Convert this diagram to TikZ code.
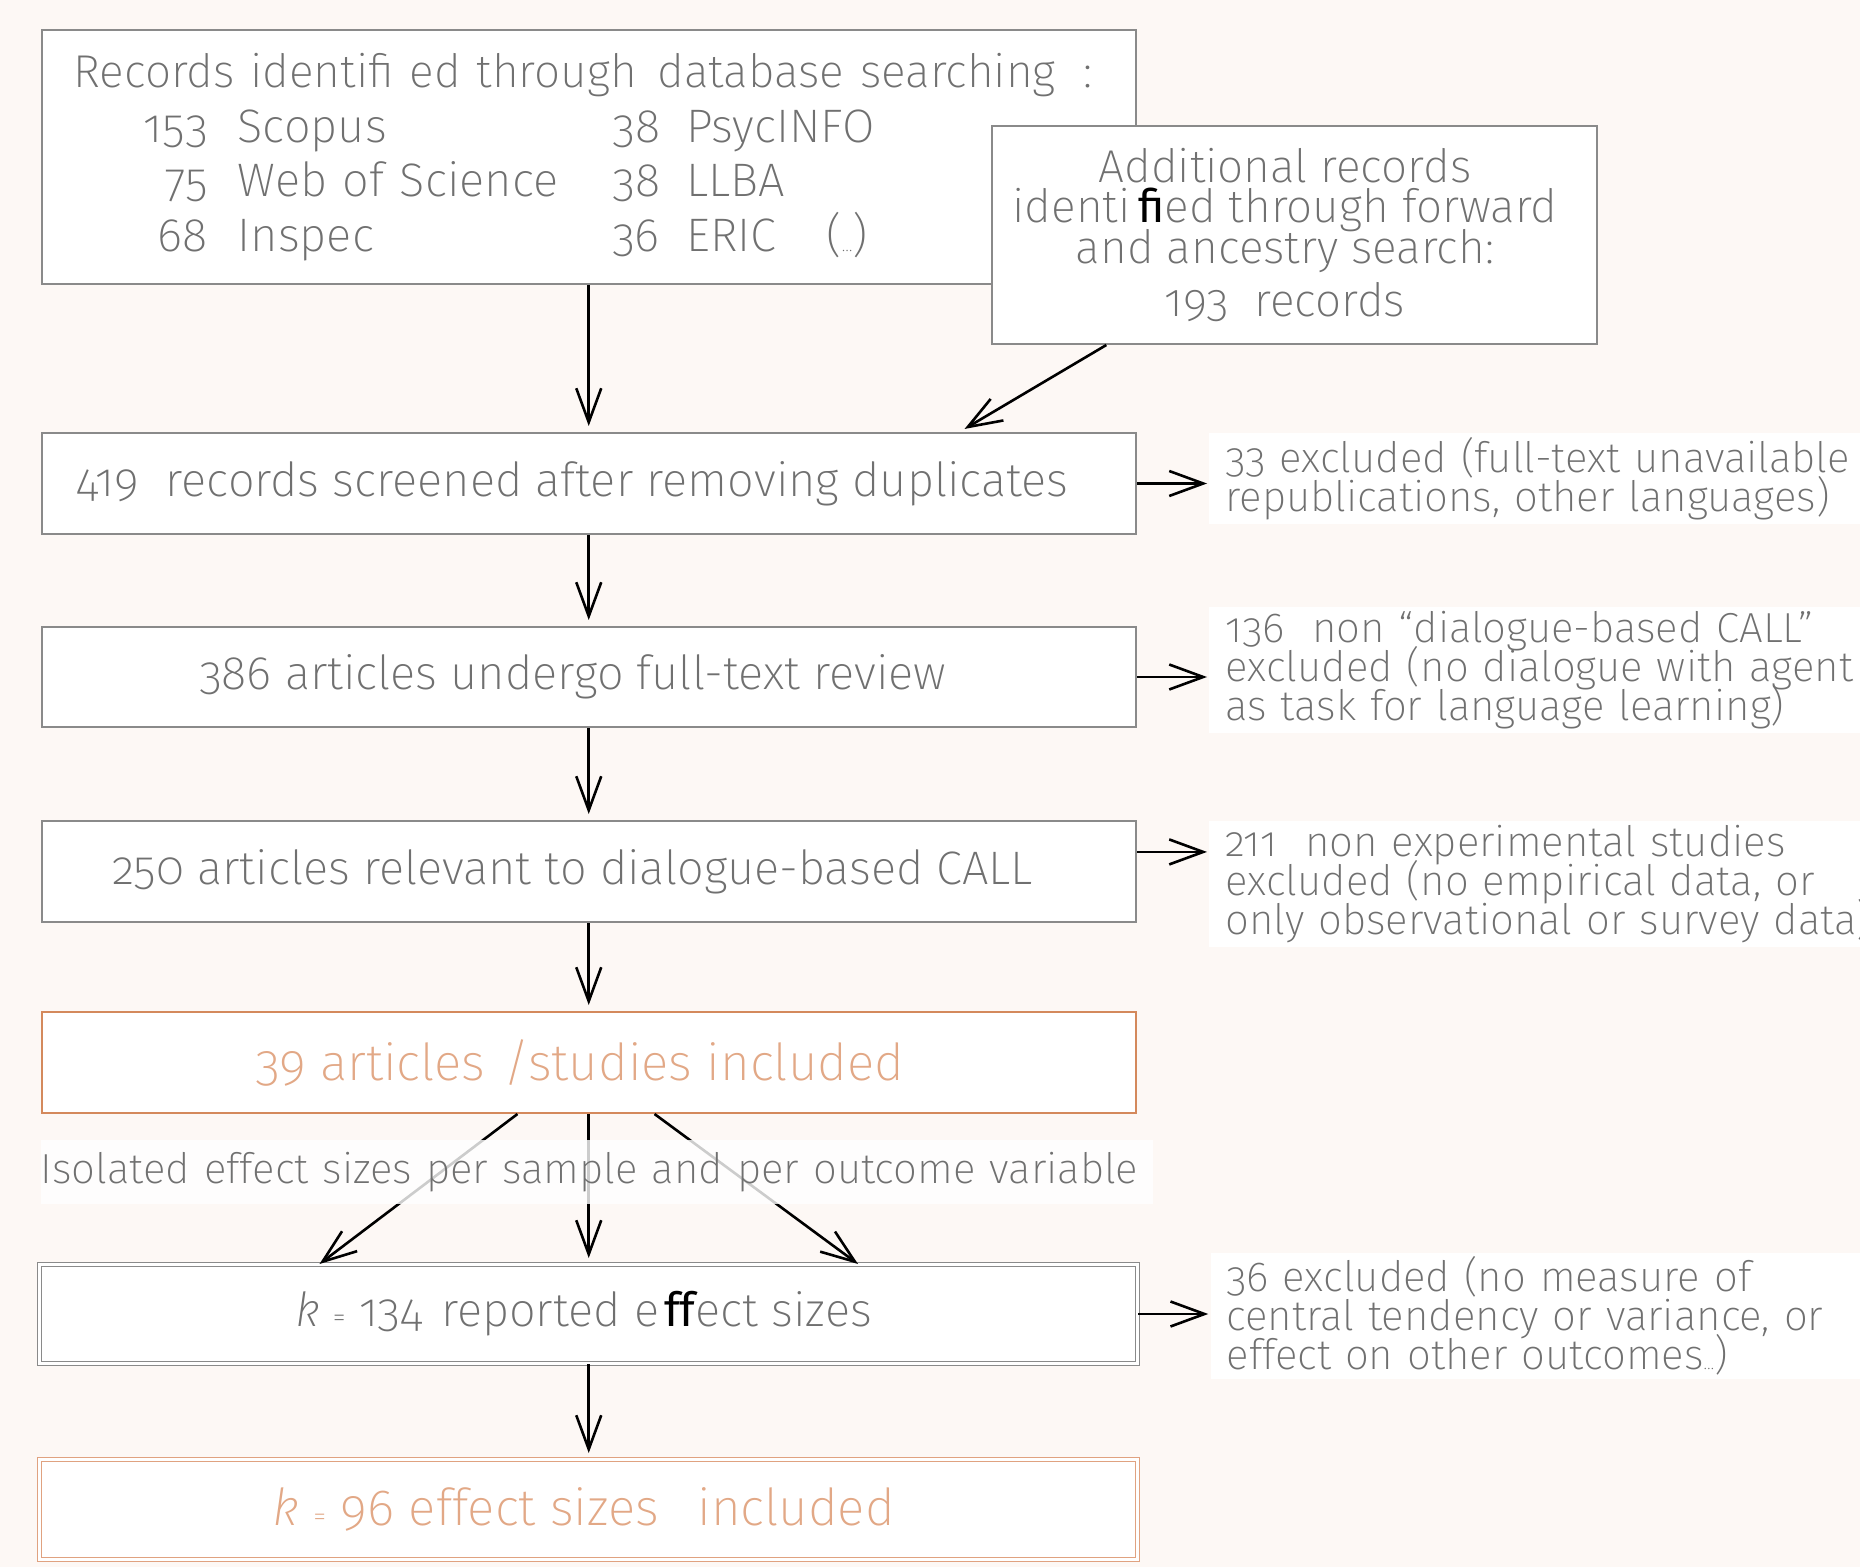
\documentclass[tikz,border=0pt]{standalone}
\usepackage{fontspec}
\IfFontExistsTF{Fira Sans ExtraLight}{\setmainfont{Fira Sans ExtraLight}[Numbers=OldStyle]}{%
  \IfFontExistsTF{Fira Sans Light}{\setmainfont{Fira Sans Light}[Numbers=OldStyle]}{\setmainfont{Fira Sans}[Numbers=OldStyle]}}
\newfontfamily\ligfont{Fira Sans}
\usetikzlibrary{positioning,calc,arrows.meta}

\definecolor{bgpink}{RGB}{253,248,245}
\definecolor{boxgray}{RGB}{138,138,138}
\definecolor{txtgray}{RGB}{112,112,112}
\definecolor{boxorange}{RGB}{212,137,92}
\definecolor{txtorange}{RGB}{226,168,134}
\definecolor{dblorange}{RGB}{224,162,128}

\newcommand{\boxfont}{\fontsize{23.5}{27.3}\selectfont\lineskiplimit=-50pt}
\newcommand{\addfont}{\fontsize{23}{20.25}\selectfont\lineskiplimit=-50pt}
\newcommand{\sidefont}{\fontsize{21}{19.5}\selectfont\lineskiplimit=-50pt}
\newcommand{\bigfont}{\fontsize{25.5}{30}\selectfont}
\newcommand{\eqsign}{{\fontsize{13}{13}\selectfont=}}
\newcommand{\tinydots}{{\fontsize{9}{9}\selectfont\ldots}}
\newcommand{\lpad}[1]{\hspace*{#1}}
\newcommand{\dbrow}[4]{\makebox[67pt][r]{#1}\hspace{15pt}\makebox[187.5pt][l]{#2}\makebox[37pt][l]{#3}#4}

\tikzset{
  rectnodes/.style args={#1,#2}{
  draw=boxgray,
  fill=white,
  line width=1pt,
  text=txtgray,
  font=\boxfont,
  inner sep=0pt,
  minimum width=#1pt,
  minimum height=#2pt,
  },
  rectnode/.style args={#1,#2}{
  rectnodes={#1,#2},
  draw=boxorange,
  text=txtorange,
  font=\bigfont,
  },
  dblnode/.style args={#1,#2}{
  rectnodes={#1,#2},
  line width=0.5pt,
  double=white,
  double distance=1.5pt,
  },
  sidenote/.style={fill=white,text=txtgray,font=\sidefont,align=left,
    text width=330pt,inner xsep=8pt,inner ysep=2pt,anchor=west},
  band/.style={fill=white,fill opacity=0.8,text opacity=1,text=txtgray,font=\sidefont,
    text width=556pt,minimum height=32pt,inner xsep=0pt,align=left},
  arr/.style={-{Straight Barb[length=17pt,width=12.5pt]},line width=1.3pt,shorten >=3pt}
}

\begin{document}
\begin{tikzpicture}[x=0.5pt,y=-0.5pt]

  \fill[bgpink] (0,0) rectangle (1860,1567);
  \useasboundingbox (0,0) rectangle (1860,1567);

  \node [rectnodes={547.25,127},text width=515pt,align=left] (rec1) at (588.75,157)
    {\mbox{\fontsize{23}{27.3}\selectfont Records identifi ed through\hspace{0.45em}database searching\hspace{0.6em}:}\\
     \dbrow{153}{Scopus}{38}{PsycINFO}\\
     \dbrow{75}{Web of Science}{38}{LLBA}\\
     \dbrow{68}{Inspec}{36}{ERIC\hspace{25pt}(\tinydots)}};
  \node [rectnodes={302.5,109}] (rec2) at (1294.5,235) {};
  \node [align=center,font=\addfont,text=txtgray,inner sep=0pt] (rec2txt) at ([xshift=-4.75pt]rec2.center)
    {Additional records\\
     identi\,{\ligfont\color{black}fi}ed through forward\\
     and ancestry search:\\[6.25pt]
     193\ \ records};

  \node [rectnodes={547.25,50.5},below=73.5pt of rec1] (rec3)
    {419\ \ records screened after removing duplicates\lpad{16.5pt}};
  \node [rectnodes={547.25,50},below=45.5pt of rec3] (rec4)
    {386 articles undergo full-text review\lpad{16pt}};
  \node [rectnodes={547.25,50.5},below=46pt of rec4] (rec5)
    {250 articles relevant to dialogue-based CALL\lpad{16pt}};
  \node [rectnode={547.25,50.5},below=44pt of rec5] (rec6)
    {39 articles\hspace{0.35em}/studies included\lpad{9pt}};
  \node [dblnode={549,49.5},below=75pt of rec6] (rec7)
    {\textit{k} \eqsign\ 134\hspace{0.4em}reported e\kern2.5pt{\ligfont\color{black}ff}ect sizes\lpad{5pt}};
  \node [dblnode={549,50},draw=dblorange,text=txtorange,font=\bigfont,below=47.5pt of rec7] (rec8)
    {\textit{k} \eqsign\ 96 effect sizes\hspace{0.75em}included\lpad{5pt}};

  % exclusions on the right
  \node [sidenote,right=36pt of rec3,yshift=2.5pt] (side1)
    {33 excluded (full-text unavailable\\
     republications, other languages)};
  \node [sidenote,right=36pt of rec4,yshift=3.5pt] (side2)
    {136\ \ non “dialogue-based CALL”\\
     excluded (no dialogue with agent\\
     as task for language learning)};
  \node [sidenote,right=36pt of rec5,yshift=-6.25pt] (side3)
    {211\ \ non experimental studies\\
     excluded (no empirical data, or\\
     only observational or survey data)};
  \node [sidenote,right=36pt of rec7,yshift=-1pt] (side4)
    {36 excluded (no measure of\\
     central tendency or variance, or\\
     effect on other outcomes\tinydots)};

  \draw[arr] (rec1.south) -- (rec3.north);
  \draw[arr] ($(rec2.south west)!0.19!(rec2.south east)$) -- ($(rec3.north west)!0.838!(rec3.north east)$);
  \draw[arr] (rec3) -- (rec4);
  \draw[arr] (rec4) -- (rec5);
  \draw[arr] (rec5) -- (rec6);
  \draw[arr] (rec7) -- (rec8);

  \draw[arr,shorten >=1pt] (rec3.east) -- (rec3.east -| side1.west);
  \draw[arr,shorten >=1pt] (rec4.east) -- (rec4.east -| side2.west);
  \path ($(rec5.north east)!0.31!(rec5.south east)$) coordinate (e5);
  \draw[arr,shorten >=1pt] (e5) -- (e5 -| side3.west);
  \draw[arr,shorten >=1pt] (rec7.east) -- (rec7.east -| side4.west);

  % one article gives several effect sizes
  \draw[arr,shorten >=0pt] ($(rec6.south west)!0.435!(rec6.south east)$) -- ($(rec7.north west)!0.255!(rec7.north east)$);
  \draw[arr] (rec6) -- (rec7);
  \draw[arr,shorten >=0pt] ($(rec6.south west)!0.56!(rec6.south east)$) -- ($(rec7.north west)!0.745!(rec7.north east)$);
  \node [band,below right=13pt and 0pt of rec6.south west,anchor=north west] (lbl)
    {Isolated effect sizes per sample and per outcome variable};

\end{tikzpicture}
\end{document}
